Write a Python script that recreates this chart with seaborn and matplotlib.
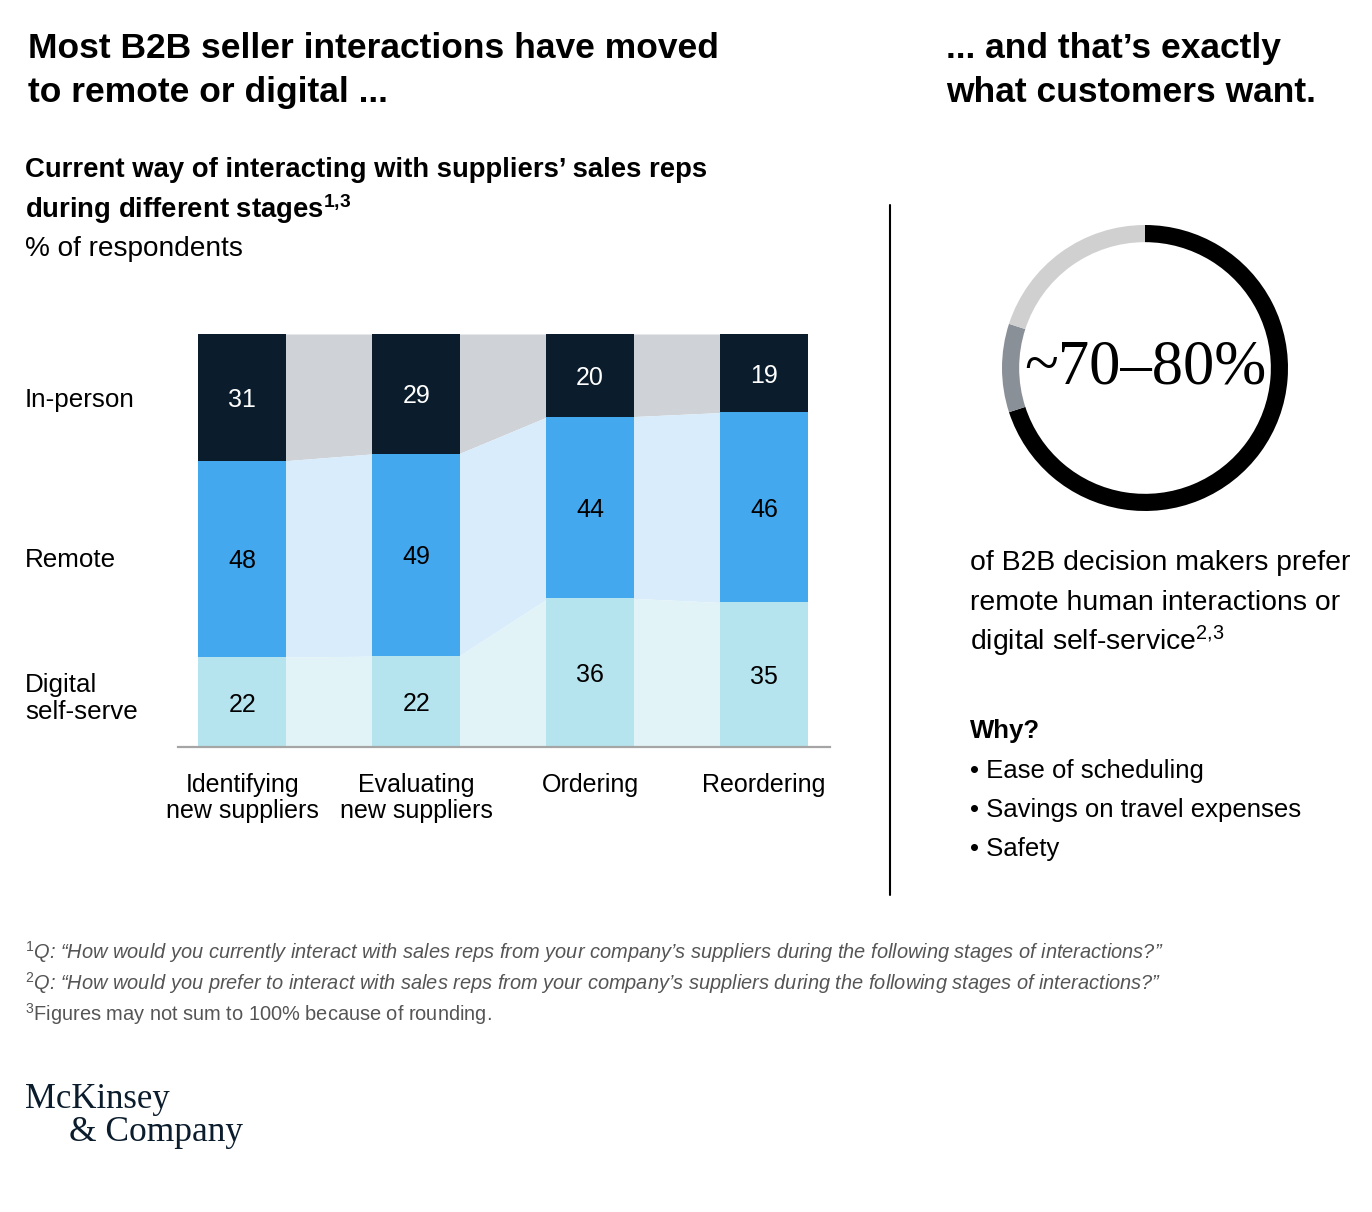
import matplotlib.pyplot as plt
import numpy as np
import pandas as pd
import seaborn as sns
from matplotlib.lines import Line2D

sns.set_theme(style='white')
plt.rcParams['font.family'] = ['Liberation Sans', 'DejaVu Sans']
plt.rcParams['text.color'] = 'black'
plt.rcParams['mathtext.fontset'] = 'custom'
plt.rcParams['mathtext.rm'] = 'Liberation Sans'
plt.rcParams['mathtext.it'] = 'Liberation Sans:italic'
plt.rcParams['mathtext.bf'] = 'Liberation Sans:bold'

W, H = 1372, 1212

# data
stages = ['Identifying\nnew suppliers', 'Evaluating\nnew suppliers', 'Ordering', 'Reordering']
in_person = [31, 29, 20, 19]
remote = [48, 49, 44, 46]
digital = [22, 22, 36, 35]
row_labels = ['In-person', 'Remote', 'Digital', 'self-serve']

ring_labels = ['remote/digital', 'mixed', 'in-person']
ring_values = [70, 10, 20]

reasons = ['Ease of scheduling', 'Savings on travel expenses', 'Safety']

DARK = '#0B1C2C'
BLUE = '#44A8EE'
CYAN = '#B5E3EE'
DARK_LINK = '#CFD2D6'
BLUE_LINK = '#D8ECFB'
CYAN_LINK = '#E1F3F7'


def fx(x):
    return x / W


def fy(y):
    return 1 - y / H


df = pd.DataFrame({'stage': stages, 'in_person': in_person, 'remote': remote, 'digital': digital})
total = df['in_person'] + df['remote'] + df['digital']
df['d_share'] = df['digital'] / total * 100
df['r_share'] = df['remote'] / total * 100
df['top'] = 100.0
df['mid'] = df['d_share'] + df['r_share']

fig = plt.figure(figsize=(W / 100, H / 100), dpi=100)
fig.patch.set_facecolor('white')

# ---- stacked bars
ax = fig.add_axes([fx(178), fy(747), fx(830 - 178), (747 - 334) / H])
bw = 0.507
sns.barplot(data=df, x='stage', y='top', color=DARK, saturation=1, width=bw, linewidth=0, ax=ax)
sns.barplot(data=df, x='stage', y='mid', color=BLUE, saturation=1, width=bw, linewidth=0, ax=ax)
sns.barplot(data=df, x='stage', y='d_share', color=CYAN, saturation=1, width=bw, linewidth=0, ax=ax)

# connectors between bars (tucked slightly under the bars to avoid seams)
layers = [
    (df['mid'].values, df['top'].values, DARK_LINK),
    (df['d_share'].values, df['mid'].values, BLUE_LINK),
    (np.zeros(len(df)), df['d_share'].values, CYAN_LINK),
]
for i in range(len(df) - 1):
    xs = [i + bw / 2 - 0.01, i + 1 - bw / 2 + 0.01]
    for lo, hi, col in layers:
        ax.fill_between(xs, [lo[i], lo[i + 1]], [hi[i], hi[i + 1]], color=col, lw=0, zorder=0)

for i, row in df.iterrows():
    ax.text(i, (row['mid'] + 100) / 2, f"{row['in_person']}", ha='center', va='center_baseline',
            color='white', fontsize=18)
    ax.text(i, row['d_share'] + row['r_share'] / 2, f"{row['remote']}", ha='center',
            va='center_baseline', color='black', fontsize=18)
    ax.text(i, row['d_share'] / 2, f"{row['digital']}", ha='center', va='center_baseline',
            color='black', fontsize=18)

ax.set_xlim(-0.37, 3.38)
ax.set_ylim(0, 100)
ax.set_xlabel('')
ax.set_ylabel('')
ax.set_yticks([])
for side in ['top', 'right', 'left']:
    ax.spines[side].set_visible(False)
ax.spines['bottom'].set_color('#A5A5A5')
ax.spines['bottom'].set_linewidth(1.6)
ax.tick_params(axis='x', length=0, pad=19, labelsize=18, colors='black')
for lab in ax.get_xticklabels():
    lab.set_linespacing(1.1)

# row labels
fig.text(fx(25), fy(407), row_labels[0], fontsize=18.7, va='baseline')
fig.text(fx(25), fy(567), row_labels[1], fontsize=18.7, va='baseline')
fig.text(fx(25), fy(692), row_labels[2], fontsize=18.7, va='baseline')
fig.text(fx(25), fy(719), row_labels[3], fontsize=18.7, va='baseline')

# ---- titles
fig.text(fx(28), fy(58), 'Most B2B seller interactions have moved', fontsize=25.5, fontweight='bold', va='baseline')
fig.text(fx(28), fy(102), 'to remote or digital ...', fontsize=25.5, fontweight='bold', va='baseline')
fig.text(fx(946), fy(58), '... and that’s exactly', fontsize=25.5, fontweight='bold', va='baseline')
fig.text(fx(946), fy(102), 'what customers want.', fontsize=25.5, fontweight='bold', va='baseline')

fig.text(fx(25), fy(177), 'Current way of interacting with suppliers’ sales reps', fontsize=19.8,
         fontweight='bold', va='baseline')
fig.text(fx(25), fy(218), r'during different stages$^{\mathbf{1{,}3}}$', fontsize=19.8,
         fontweight='bold', va='baseline')
fig.text(fx(25), fy(256), '% of respondents', fontsize=20.2, va='baseline')

# divider
fig.add_artist(Line2D([fx(890), fx(890)], [fy(205), fy(895)], color='black', lw=1.5))

# ---- ring
rax = fig.add_axes([fx(1002), fy(512), 286 / W, 288 / H])
rax.pie(ring_values, colors=['#000000', '#8A9097', '#D0D0D0'], startangle=90, counterclock=False,
        wedgeprops=dict(width=0.12, linewidth=0))
rax.set_xlim(-1, 1)
rax.set_ylim(-1, 1)
rax.set_aspect('equal')
rax.axis('off')
rax.text(0, 0, '~70–80%', ha='center', va='center', fontsize=45, family='Liberation Serif',
         color='black', path_effects=None)

fig.text(fx(970), fy(570), 'of B2B decision makers prefer', fontsize=20.4, va='baseline')
fig.text(fx(970), fy(610), 'remote human interactions or', fontsize=20.4, va='baseline')
fig.text(fx(970), fy(650), r'digital self-service$^{2{,}3}$', fontsize=20.4, va='baseline')

fig.text(fx(970), fy(738), 'Why?', fontsize=18.5, fontweight='bold', va='baseline')
for k, r in enumerate(reasons):
    fig.text(fx(970), fy(778 + 39 * k), '• ' + r, fontsize=18.5, va='baseline')

# ---- footnotes
fn_color = '#555555'
fig.text(fx(25), fy(959),
         r'$^1$Q: “How would you currently interact with sales reps from your company’s suppliers during the following stages of interactions?”',
         fontsize=14.4, style='italic', color=fn_color, va='baseline')
fig.text(fx(25), fy(990),
         r'$^2$Q: “How would you prefer to interact with sales reps from your company’s suppliers during the following stages of interactions?”',
         fontsize=14.4, style='italic', color=fn_color, va='baseline')
fig.text(fx(25), fy(1021), r'$^3$Figures may not sum to 100% because of rounding.',
         fontsize=14.4, color=fn_color, va='baseline')

# ---- logo
fig.text(fx(25), fy(1108), 'McKinsey', fontsize=25, family='Liberation Serif', color=DARK, va='baseline')
fig.text(fx(69), fy(1141), '& Company', fontsize=25.5, family='Liberation Serif', color=DARK, va='baseline')

fig.savefig('out.png', dpi=100, facecolor='white')
